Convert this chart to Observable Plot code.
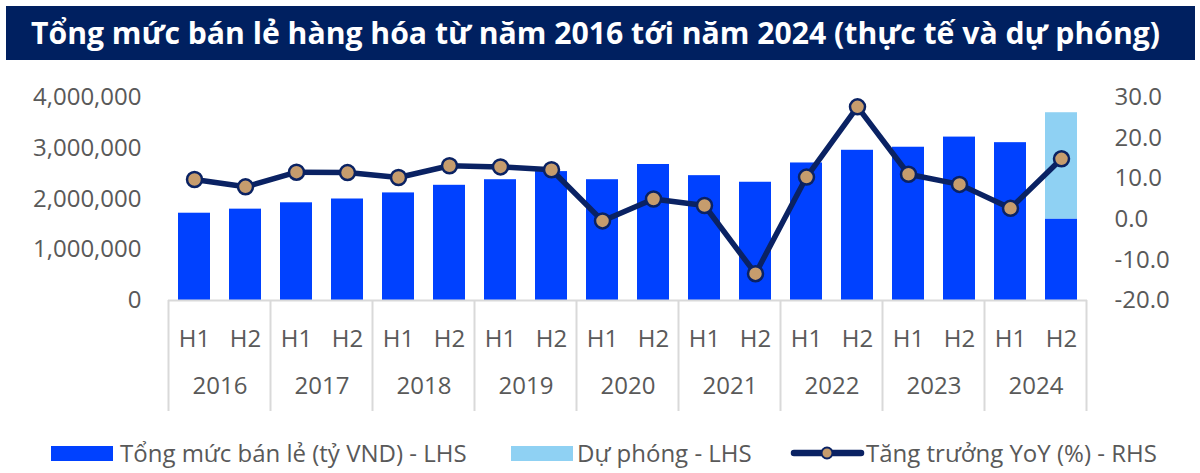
<!DOCTYPE html>
<html><head><meta charset="utf-8">
<script src="https://cdn.jsdelivr.net/npm/d3@7"></script>
<script src="https://cdn.jsdelivr.net/npm/@observablehq/plot@0.6"></script>
<style>
body{margin:0;background:#fff;width:1200px;height:473px;overflow:hidden;position:relative;font-family:"Open Sans",sans-serif;}
#title{position:absolute;left:6px;top:6px;width:1189px;height:54px;background:#002060;color:#fff;font-weight:700;font-size:30px;line-height:54px;white-space:nowrap;overflow:hidden}
#title span{position:absolute;left:25px;top:0;transform-origin:left center;}
#chart{position:absolute;left:0;top:60px;}
.lg{position:absolute;top:439px;height:28px;font-size:24px;color:#595959;line-height:28px;white-space:nowrap}
.sw{position:absolute;}
</style></head><body>
<div id="title"><span id="titletext"></span></div>
<div id="chart"></div>
<div id="legend"></div>
<script>
const titleText = "Tổng mức bán lẻ hàng hóa từ năm 2016 tới năm 2024 (thực tế và dự phóng)";
const years = ["2016","2017","2018","2019","2020","2021","2022","2023","2024"];
const halves = ["H1","H2"];
// Total retail sales (tỷ VND)
const retail = [1720000, 1800000, 1925000, 2000000, 2120000, 2270000, 2380000, 2540000, 2380000, 2680000, 2460000, 2330000, 2710000, 2960000, 3020000, 3220000, 3110000, 1600000];
// Forecast total (tỷ VND), only for 2024 H2
const forecast = [null, null, null, null, null, null, null, null, null, null, null, null, null, null, null, null, null, 3700000];
// YoY growth (%)
const growth = [9.8, 8.0, 11.6, 11.5, 10.3, 13.2, 12.9, 12.2, -0.4, 5.0, 3.4, -13.4, 10.4, 27.7, 11.1, 8.6, 2.7, 14.9];
const leftTicks = [0, 1000000, 2000000, 3000000, 4000000];
const rightTicks = [-20, -10, 0, 10, 20, 30];
const legendLabels = ["Tổng mức bán lẻ (tỷ VND) - LHS", "Dự phóng - LHS", "Tăng trưởng YoY (%) - RHS"];

const BLUE = "#0041ff", LIGHT = "#8fd1f3", NAVY = "#0a2263", TAN = "#c69c6d", GRAY = "#595959", GRID = "#d9d9d9";

const keys = years.flatMap(y => halves.map(h => `${y}-${h}`));
const rows = keys.map((k, i) => ({key: k, retail: retail[i], forecast: forecast[i], growth: growth[i]}));

const yMax = 4000000, gMin = -20, gMax = 30;
const g2y = g => (g - gMin) / (gMax - gMin) * yMax;
const y2g = v => v / yMax * (gMax - gMin) + gMin;

const W = 1200, H = 360, ML = 168, MR = 113, MT = 37, MB = 120;
const step = (W - ML - MR) / keys.length;

const plot = Plot.plot({
  width: W, height: H,
  marginLeft: ML, marginRight: MR, marginTop: MT, marginBottom: MB,
  style: {fontFamily: "'Open Sans', sans-serif", fontSize: "24px", color: GRAY, background: "transparent", overflow: "visible"},
  x: {type: "band", domain: keys, paddingInner: 0.367, paddingOuter: 0.1835, axis: null},
  y: {domain: [0, yMax], axis: null},
  marks: [
    Plot.barY(rows.filter(d => d.forecast != null), {x: "key", y1: "retail", y2: "forecast", fill: LIGHT}),
    Plot.barY(rows, {x: "key", y: "retail", fill: BLUE}),
    Plot.ruleY([0], {stroke: GRID, strokeWidth: 2}),
    Plot.axisY(leftTicks, {anchor: "left", label: null, tickSize: 0, tickPadding: 27, tickFormat: d3.format(","), fill: GRAY, fontSize: 24}),
    Plot.axisY(rightTicks.map(g2y), {anchor: "right", label: null, tickSize: 0, tickPadding: 27, tickFormat: d => y2g(d).toFixed(1), fill: GRAY, fontSize: 24}),
    Plot.axisX(keys, {anchor: "bottom", label: null, tickSize: 0, tickPadding: 29, tickFormat: d => d.split("-")[1], fill: GRAY, fontSize: 24}),
    Plot.text(years, {x: d => d + "-H1", dx: step / 2, frameAnchor: "bottom", dy: 93, text: d => d, fill: GRAY, fontSize: 24}),
    Plot.line(rows, {x: "key", y: d => g2y(d.growth), stroke: NAVY, strokeWidth: 5.5, strokeLinejoin: "round"}),
    Plot.dot(rows, {x: "key", y: d => g2y(d.growth), r: 7.5, fill: TAN, stroke: NAVY, strokeWidth: 2.5})
  ]
});
document.getElementById("chart").appendChild(plot);

// Year separators drawn with the plot's own scales
const xs = plot.scale("x"), ys = plot.scale("y");
const bw = xs.bandwidth;
const st = xs.apply(keys[1]) - xs.apply(keys[0]);
const gap = (st - bw) / 2;
const y0 = ys.apply(0);
const sepX = years.map(y => xs.apply(y + "-H1") - gap).concat([xs.apply(keys[keys.length - 1]) + bw + gap]);
d3.select(plot).append("g")
  .selectAll("line").data(sepX).join("line")
  .attr("x1", d => d).attr("x2", d => d)
  .attr("y1", y0).attr("y2", y0 + 111)
  .attr("stroke", GRID).attr("stroke-width", 2);

// Title
const tt = document.getElementById("titletext");
tt.textContent = titleText;
const tw = tt.getBoundingClientRect().width;
tt.style.transform = `scaleX(${1129 / tw})`;

// Legend
const lg = document.getElementById("legend");
lg.innerHTML = `
<div class="sw" style="left:51px;top:446px;width:62px;height:15px;background:${BLUE}"></div>
<div class="lg" style="left:120px">${legendLabels[0]}</div>
<div class="sw" style="left:511px;top:446px;width:62px;height:15px;background:${LIGHT}"></div>
<div class="lg" style="left:577px">${legendLabels[1]}</div>
<svg class="sw" style="left:790px;top:442px" width="75" height="22"><line x1="4" x2="71" y1="11" y2="11" stroke="${NAVY}" stroke-width="6.5" stroke-linecap="round"/><circle cx="37" cy="11" r="5.5" fill="${TAN}" stroke="${NAVY}" stroke-width="2"/></svg>
<div class="lg" style="left:866px">${legendLabels[2]}</div>`;
</script>
</body></html>
